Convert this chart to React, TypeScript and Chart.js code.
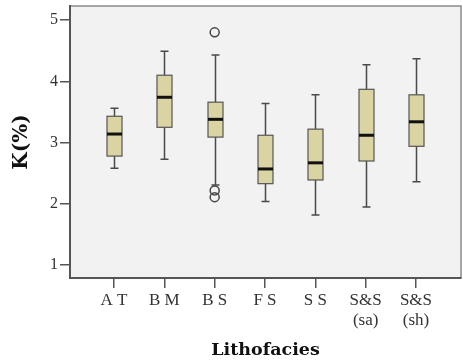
import React, { useEffect, useRef } from "react";
import { Chart, registerables } from "chart.js";

Chart.register(...registerables);

const categories: (string | string[])[] = ["A T", "B M", "B S", "F S", "S S", ["S&S", "(sa)"], ["S&S", "(sh)"]];
const whiskerLow = [2.58, 2.73, 2.31, 2.04, 1.82, 1.95, 2.36];
const q1 = [2.78, 3.25, 3.09, 2.33, 2.39, 2.7, 2.94];
const medians = [3.14, 3.74, 3.38, 2.57, 2.67, 3.12, 3.34];
const q3 = [3.43, 4.1, 3.66, 3.12, 3.22, 3.87, 3.78];
const whiskerHigh = [3.56, 4.49, 4.43, 3.64, 3.78, 4.27, 4.37];
const outlierX = [2, 2, 2];
const outlierY = [4.8, 2.22, 2.11];
const yTicks = [1, 2, 3, 4, 5];

const FONT = "'Liberation Serif', 'DejaVu Serif', serif";
const TITLE_FONT = "'DejaVu Serif', 'Liberation Serif', serif";

const boxPlugin = {
  id: "boxes",
  beforeDatasetsDraw(chart: any) {
    const { ctx, scales } = chart;
    const xs = scales.x;
    const ys = scales.y;
    const half = 7.5;
    const cap = 4;
    ctx.save();
    for (let i = 0; i < categories.length; i++) {
      const cx = Math.round(xs.getPixelForValue(i)) + 0.5;
      const yLo = ys.getPixelForValue(whiskerLow[i]);
      const yQ1 = ys.getPixelForValue(q1[i]);
      const yMed = ys.getPixelForValue(medians[i]);
      const yQ3 = ys.getPixelForValue(q3[i]);
      const yHi = ys.getPixelForValue(whiskerHigh[i]);
      ctx.strokeStyle = "#4a4a4a";
      ctx.lineWidth = 1.5;
      ctx.beginPath();
      ctx.moveTo(cx, yHi);
      ctx.lineTo(cx, yQ3);
      ctx.moveTo(cx, yQ1);
      ctx.lineTo(cx, yLo);
      ctx.moveTo(cx - cap, yHi);
      ctx.lineTo(cx + cap, yHi);
      ctx.moveTo(cx - cap, yLo);
      ctx.lineTo(cx + cap, yLo);
      ctx.stroke();
      ctx.fillStyle = "#dad4a3";
      ctx.fillRect(cx - half, yQ3, half * 2, yQ1 - yQ3);
      ctx.lineWidth = 1.2;
      ctx.strokeStyle = "#555555";
      ctx.strokeRect(cx - half, yQ3, half * 2, yQ1 - yQ3);
      ctx.strokeStyle = "#111111";
      ctx.lineWidth = 3;
      ctx.beginPath();
      ctx.moveTo(cx - half, yMed);
      ctx.lineTo(cx + half, yMed);
      ctx.stroke();
    }
    ctx.restore();
  },
};

const bgPlugin = {
  id: "bg",
  beforeDraw(chart: any) {
    const { ctx, chartArea } = chart;
    ctx.save();
    ctx.fillStyle = "#ffffff";
    ctx.fillRect(0, 0, chart.width, chart.height);
    ctx.fillStyle = "#f2f2f2";
    ctx.fillRect(chartArea.left, chartArea.top, chartArea.right - chartArea.left, chartArea.bottom - chartArea.top);
    ctx.strokeStyle = "#8a8a8a";
    ctx.lineWidth = 1.5;
    ctx.beginPath();
    ctx.moveTo(chartArea.left, chartArea.top);
    ctx.lineTo(chartArea.right, chartArea.top);
    ctx.lineTo(chartArea.right, chartArea.bottom);
    ctx.stroke();
    ctx.restore();
  },
};

export default function App() {
  const ref = useRef<HTMLCanvasElement>(null);
  useEffect(() => {
    document.body.style.margin = "0";
    document.body.style.overflow = "hidden";
    const chart = new Chart(ref.current!, {
      type: "scatter",
      data: {
        datasets: [
          {
            data: outlierX.map((x, i) => ({ x, y: outlierY[i] })),
            pointStyle: "circle",
            pointRadius: 4.5,
            borderColor: "#444444",
            borderWidth: 1.5,
            backgroundColor: "rgba(0,0,0,0)",
          },
        ],
      },
      options: {
        animation: false,
        responsive: false,
        events: [],
        layout: { autoPadding: false, padding: { top: 6, right: 2, left: 0, bottom: 0 } },
        plugins: { legend: { display: false }, tooltip: { enabled: false } },
        scales: {
          x: {
            type: "linear",
            min: -0.875,
            max: 6.895,
            afterFit: (s: any) => {
              s.height = 86;
              s.paddingLeft = 0;
              s.paddingRight = 0;
              s.paddingTop = 0;
              s.paddingBottom = 0;
            },
            afterBuildTicks: (s: any) => {
              s.ticks = categories.map((_, i) => ({ value: i }));
            },
            ticks: {
              includeBounds: false,
              autoSkip: false,
              maxRotation: 0,
              padding: 2,
              color: "#333333",
              font: { family: FONT, size: 17 },
              callback: (_v: any, i: number) => categories[i],
            },
            grid: { drawOnChartArea: false, tickLength: 10, color: "#555555", lineWidth: 1.5 },
            border: { color: "#555555", width: 2 },
            title: {
              display: true,
              text: "Lithofacies",
              color: "#111111",
              font: { family: TITLE_FONT, size: 17.5, weight: "bold" },
              padding: { top: 0, bottom: 3 },
            },
          },
          y: {
            type: "linear",
            min: 0.79,
            max: 5.23,
            afterFit: (s: any) => {
              s.width = 70;
              s.paddingLeft = 0;
              s.paddingRight = 0;
              s.paddingTop = 0;
              s.paddingBottom = 0;
            },
            afterBuildTicks: (s: any) => {
              s.ticks = yTicks.map((v) => ({ value: v }));
            },
            ticks: {
              padding: 2,
              color: "#333333",
              font: { family: FONT, size: 16 },
            },
            grid: { drawOnChartArea: false, tickLength: 10, color: "#555555", lineWidth: 1.5 },
            border: { color: "#555555", width: 2 },
            title: {
              display: true,
              text: "K(%)",
              color: "#111111",
              font: { family: TITLE_FONT, size: 20, weight: "bold" },
              padding: { top: 10, bottom: 0 },
            },
          },
        },
      },
      plugins: [bgPlugin, boxPlugin],
    } as any);
    return () => chart.destroy();
  }, []);
  return (
    <div style={{ width: 463, height: 364, overflow: "hidden" }}>
      <canvas ref={ref} width={463} height={364} style={{ display: "block" }} />
    </div>
  );
}
